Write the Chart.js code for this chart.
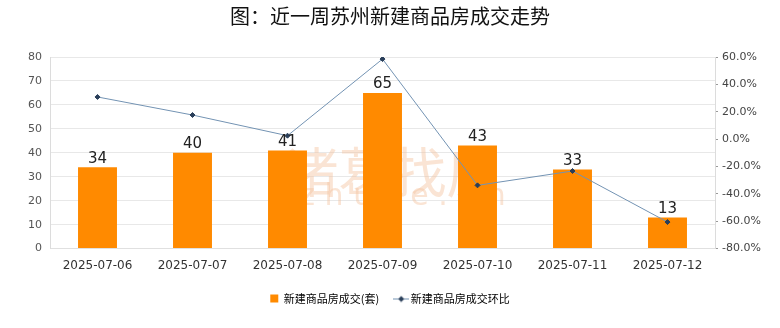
<!DOCTYPE html>
<html><head><meta charset="utf-8">
<script src="https://cdn.jsdelivr.net/npm/chart.js@4.4.1/dist/chart.umd.min.js"></script>
<style>html,body{margin:0;padding:0;background:#fff}#w{width:780px;height:328px;position:relative}</style>
</head><body><div id="w"><canvas id="c" width="780" height="328"></canvas></div>
<script>
const categories = ['2025-07-06','2025-07-07','2025-07-08','2025-07-09','2025-07-10','2025-07-11','2025-07-12'];
const sales = [34, 40, 41, 65, 43, 33, 13];
const ratio = [30.8, 17.6, 2.5, 58.5, -33.8, -23.3, -60.6];
const titleText = '图：近一周苏州新建商品房成交走势';
const barName = '新建商品房成交(套)';
const lineName = '新建商品房成交环比';

const CJK = '"Noto Sans CJK SC", "Noto Sans", sans-serif';

// legend marker for the line series: short line with a diamond
const lineMarker = document.createElement('canvas');
lineMarker.width = 16; lineMarker.height = 8;
(function () {
  const g = lineMarker.getContext('2d');
  g.strokeStyle = '#7393b3'; g.lineWidth = 1;
  g.beginPath(); g.moveTo(0, 4.5); g.lineTo(16, 4.5); g.stroke();
  g.fillStyle = '#2a3f5a';
  g.beginPath(); g.moveTo(8, 1.5); g.lineTo(11, 4.5); g.lineTo(8, 7.5); g.lineTo(5, 4.5); g.closePath(); g.fill();
})();

const barLabels = {
  id: 'barLabels',
  afterDatasetsDraw(chart) {
    const ctx = chart.ctx;
    const meta = chart.getDatasetMeta(1);
    ctx.save();
    ctx.font = '15px "DejaVu Sans", sans-serif';
    ctx.fillStyle = '#222';
    ctx.textAlign = 'center';
    ctx.textBaseline = 'bottom';
    meta.data.forEach((el, i) => {
      ctx.fillText(String(sales[i]), el.x, el.y - 1);
    });
    ctx.restore();
  }
};

const watermark = {
  id: 'watermark',
  beforeDatasetsDraw(chart) {
    const a = chart.chartArea;
    const ctx = chart.ctx;
    ctx.save();
    ctx.fillStyle = 'rgba(245,195,160,0.45)';
    ctx.textAlign = 'center';
    ctx.font = '54px ' + CJK;
    ctx.fillText('诸葛找房', (a.left + a.right) / 2 + 10, a.top + 115);
    ctx.font = '30px "DejaVu Sans", sans-serif';
    ctx.fillText('z h u g e .   m', (a.left + a.right) / 2 + 20, a.top + 140);
    ctx.restore();
  }
};

new Chart(document.getElementById('c'), {
  data: {
    labels: categories,
    datasets: [
      {
        type: 'line', label: lineName, data: ratio, yAxisID: 'y2',
        borderColor: '#7393b3', borderWidth: 1,
        pointStyle: 'rectRot', pointRadius: 2.5, pointBackgroundColor: '#2a3f5a', pointBorderColor: '#2a3f5a',
        tension: 0, order: 0
      },
      {
        type: 'bar', label: barName, data: sales, yAxisID: 'y',
        backgroundColor: '#ff8a00', barPercentage: 0.41, categoryPercentage: 1, order: 1
      }
    ]
  },
  options: {
    responsive: false, animation: false,
    layout: { padding: { top: 0, left: 0, right: 0, bottom: 14 } },
    plugins: {
      title: { display: true, text: titleText, color: '#111', font: { family: CJK, size: 20, weight: 'normal' }, padding: { top: 4, bottom: 29 } },
      legend: {
        position: 'bottom',
        labels: {
          font: { family: CJK, size: 11 }, color: '#333', boxWidth: 8, boxHeight: 8, padding: 18,
          generateLabels(chart) {
            return [
              { text: barName, fillStyle: '#ff8a00', strokeStyle: '#ff8a00', lineWidth: 0, pointStyle: 'rect', datasetIndex: 1 },
              { text: lineName, fillStyle: '#2a3f5a', strokeStyle: '#7393b3', lineWidth: 1, pointStyle: lineMarker, datasetIndex: 0 }
            ];
          },
          usePointStyle: true
        }
      },
      tooltip: { enabled: false }
    },
    scales: {
      x: {
        grid: { display: false },
        border: { color: '#e0e0e0' },
        ticks: { color: '#333', font: { family: '"DejaVu Sans", sans-serif', size: 12 }, padding: 2 }
      },
      y: {
        position: 'left', min: 0, max: 80,
        ticks: { stepSize: 10, color: '#555', font: { family: '"DejaVu Sans", sans-serif', size: 11 }, padding: 8 },
        grid: { color: '#e8e8e8', tickLength: 0 },
        border: { color: '#dcdcdc' },
        afterFit(s) { s.width = 50; }
      },
      y2: {
        position: 'right', min: -80, max: 60,
        ticks: {
          stepSize: 10, color: '#444', font: { family: '"DejaVu Sans", sans-serif', size: 11 }, padding: 4,
          callback(v) { return v % 20 === 0 ? v.toFixed(1) + '%' : ''; }
        },
        grid: { drawOnChartArea: false, color: '#999', tickLength: 3 },
        border: { color: '#dcdcdc' },
        afterFit(s) { s.width = 65; }
      }
    }
  },
  plugins: [barLabels, watermark]
});
</script>
</body></html>
